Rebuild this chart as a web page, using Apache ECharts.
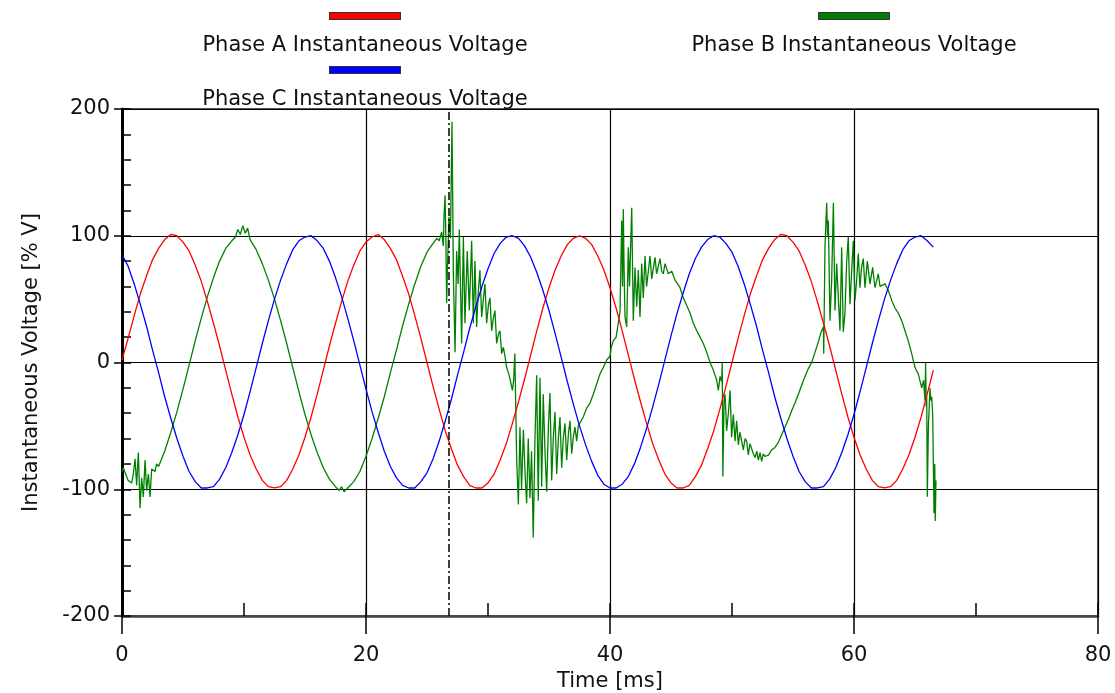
<!DOCTYPE html>
<html><head><meta charset="utf-8">
<script src="https://cdn.jsdelivr.net/npm/echarts@6/dist/echarts.min.js"></script>
<style>html,body{margin:0;padding:0;background:#fff}#chart{width:1115px;height:693px}</style>
</head><body><div id="chart"></div>
<script>
const timeMs = [
0,0.5,1,1.5,2,2.5,3,3.5,4,4.5,5,5.5,6,6.5,7,7.5,8,8.5,9,9.5,
10,10.5,11,11.5,12,12.5,13,13.5,14,14.5,15,15.5,16,16.5,17,17.5,18,18.5,19,19.5,
20,20.5,21,21.5,22,22.5,23,23.5,24,24.5,25,25.5,26,26.5,27,27.5,28,28.5,29,29.5,
30,30.5,31,31.5,32,32.5,33,33.5,34,34.5,35,35.5,36,36.5,37,37.5,38,38.5,39,39.5,
40,40.5,41,41.5,42,42.5,43,43.5,44,44.5,45,45.5,46,46.5,47,47.5,48,48.5,49,49.5,
50,50.5,51,51.5,52,52.5,53,53.5,54,54.5,55,55.5,56,56.5,57,57.5,58,58.5,59,59.5,
60,60.5,61,61.5,62,62.5,63,63.5,64,64.5,65,65.5,66,66.5
];
const phaseA = [
2,19,37,54,68,81,90,97,101,100,
95,88,77,64,48,31,13,-6,-25,-43,
-59,-73,-84,-93,-98,-99,-98,-93,-84,-73,
-59,-43,-25,-6,13,31,48,64,77,88,
95,99,101,97,90,81,68,54,37,19,
0,-19,-37,-54,-68,-81,-90,-97,-99,-99,
-95,-88,-77,-64,-48,-31,-13,6,25,43,
59,73,84,93,98,100,98,93,84,73,
59,43,25,6,-13,-31,-48,-64,-77,-88,
-95,-99,-99,-97,-90,-81,-68,-54,-37,-19,
0,19,37,54,68,81,90,97,101,100,
95,88,77,64,48,31,13,-6,-25,-43,
-59,-73,-84,-93,-98,-99,-98,-93,-84,-73,
-59,-43,-25,-6
];
const phaseC = [
85,76,62,46,29,10,-8,-27,-44,-60,
-74,-86,-94,-99,-99,-98,-92,-83,-71,-57,
-41,-23,-4,15,33,50,65,78,89,96,
99,100,96,90,80,67,52,35,17,-2,
-21,-39,-55,-70,-82,-91,-97,-99,-99,-94,
-87,-76,-62,-46,-29,-10,8,27,44,60,
74,86,94,99,100,98,92,83,71,57,
41,23,4,-15,-33,-50,-65,-78,-89,-96,
-99,-99,-96,-90,-80,-67,-52,-35,-17,2,
21,39,55,70,82,91,97,100,99,94,
87,76,62,46,29,10,-8,-27,-44,-60,
-74,-86,-94,-99,-99,-98,-92,-83,-71,-57,
-41,-23,-4,15,33,50,65,78,89,96,
99,100,96,91
];
const phaseBTimeMs = [
0,0.1,0.3,0.5,0.8,0.93,1.07,1.2,1.34,1.48,1.61,1.75,1.89,2.02,2.16,2.3,2.43,2.7,2.84,3.0,
3.5,4.0,4.5,5.0,5.5,6.0,6.5,7.0,7.5,8.0,8.5,9.0,9.3,9.5,9.7,9.9,10.1,10.3,10.5,11.0,
11.5,12.0,12.5,13.0,13.5,14.0,14.5,15.0,15.5,16.0,16.5,17.0,17.5,17.8,18.0,18.2,18.5,19.0,19.5,20.0,
20.5,21.0,21.5,22.0,22.5,23.0,23.5,24.0,24.5,25.0,25.5,25.8,26.0,26.2,26.34,26.4,26.48,26.55,26.61,26.7,
26.8,26.92,27.05,27.16,27.3,27.43,27.55,27.65,27.84,27.98,28.11,28.3,28.47,28.66,28.8,28.93,29.07,29.2,29.34,29.48,
29.62,29.75,29.89,30.03,30.16,30.3,30.44,30.57,30.71,30.85,30.98,31.12,31.26,31.39,31.53,31.7,31.85,32.0,32.1,32.2,
32.35,32.49,32.62,32.75,32.9,33.05,33.17,33.3,33.44,33.57,33.71,33.85,33.99,34.12,34.26,34.4,34.53,34.67,34.81,34.95,
35.08,35.22,35.35,35.49,35.63,35.77,35.9,36.04,36.17,36.31,36.45,36.6,36.72,36.86,37.0,37.13,37.27,37.4,37.54,37.81,
38.09,38.36,38.63,38.91,39.18,39.45,39.73,40.0,40.1,40.27,40.5,40.68,40.82,40.96,41.03,41.09,41.16,41.23,41.37,41.5,
41.6,41.78,41.91,42.05,42.19,42.32,42.46,42.6,42.73,42.87,43.0,43.14,43.28,43.42,43.55,43.69,43.82,43.96,44.1,44.24,
44.37,44.51,44.78,45.06,45.33,45.74,46.01,46.29,46.56,46.83,47.11,47.38,47.65,47.93,48.2,48.47,48.75,48.88,49.02,49.15,
49.2,49.25,49.35,49.43,49.56,49.7,49.84,49.97,50.11,50.25,50.38,50.52,50.65,50.79,50.93,51.07,51.2,51.34,51.47,51.61,
51.75,51.89,52.03,52.16,52.3,52.43,52.56,52.7,52.98,53.25,53.52,53.8,54.07,54.34,54.62,54.89,55.16,55.44,55.71,55.98,
56.25,56.53,56.8,57.07,57.3,57.49,57.52,57.62,57.76,57.83,57.9,58.03,58.17,58.31,58.44,58.58,58.72,58.85,58.99,59.12,
59.26,59.4,59.53,59.67,59.8,59.94,60.08,60.22,60.35,60.49,60.62,60.76,60.9,61.09,61.31,61.53,61.72,61.99,62.13,62.54,
62.81,63.09,63.36,63.63,63.91,64.18,64.45,64.73,65.0,65.27,65.55,65.7,65.82,65.87,65.92,65.96,66.01,66.1,66.23,66.3,
66.37,66.45,66.56,66.62,66.66,66.72
];
const phaseB = [
-86,-83,-88,-93,-95,-88,-76,-97,-71,-115,-91,-106,-77,-101,-88,-106,-84,-86,-80,-82,
-70,-55,-39,-21,-2,17,35,52,67,80,90,96,99,105,101,108,102,106,97,89,
78,65,50,33,15,-4,-23,-41,-57,-71,-83,-92,-98,-101,-98,-102,-99,-94,-86,-74,
-60,-44,-27,-8,10,29,46,62,76,87,94,98,96,103,92,117,132,96,47,82,
115,98,190,70,8,88,62,105,15,99,31,88,41,96,31,80,28,55,73,36,
50,62,31,45,51,25,35,41,15,22,25,7,12,5,-4,-9,-15,-22,-14,7,
-77,-112,-51,-100,-53,-90,-111,-60,-107,-70,-138,-60,-10,-109,-12,-98,-25,-70,-102,-50,
-24,-93,-60,-39,-88,-60,-43,-83,-60,-48,-77,-55,-46,-72,-58,-51,-62,-50,-51,-43,
-36,-32,-25,-17,-9,-4,2,5,12,17,20,31,40,112,60,121,70,36,28,91,
60,122,33,75,44,73,36,78,51,84,60,59,84,66,65,83,70,70,82,72,
70,78,70,72,65,59,51,45,39,31,25,20,15,8,0,-6,-14,-22,-11,-15,
0,-90,-30,-25,-54,-40,-22,-59,-41,-62,-46,-65,-55,-54,-69,-60,-62,-73,-64,-65,
-72,-75,-70,-77,-71,-78,-72,-74,-73,-69,-67,-63,-57,-51,-45,-38,-32,-25,-18,-11,
-5,0,8,16,24,28,7,91,126,100,112,33,65,126,41,78,50,25,91,24,
39,80,99,46,70,96,49,65,86,59,75,82,59,80,62,75,59,70,60,62,
57,49,43,39,33,25,17,7,-4,-9,-20,-14,-30,0,-35,-27,-106,-50,-20,-30,
-27,-41,-119,-80,-125,-93
];
const faultTimeMs = 26.75;
const seriesNames = ['Phase A Instantaneous Voltage', 'Phase B Instantaneous Voltage', 'Phase C Instantaneous Voltage'];

const FONT = 'DejaVu Sans';
const TXT = '#111';
const RED = '#ff0000', GREEN = '#008000', BLUE = '#0000ff';

function zip(t, v) { return v.map((y, i) => [t[i], y]); }

function legendFor(name, color, cx, top) {
  return {
    data: [name], left: cx - 175, top: top, padding: 0,
    itemWidth: 0, itemHeight: 0, icon: 'rect', selectedMode: false,
    itemStyle: { opacity: 0 }, lineStyle: { opacity: 0 },
    formatter: n => '{bar| }\n{t|' + n + '}',
    textStyle: {
      rich: {
        bar: { width: 70, height: 6, lineHeight: 8, fontSize: 6, backgroundColor: color, borderColor: '#333', borderWidth: 1, align: 'center' },
        t: { fontFamily: FONT, fontSize: 21, color: TXT, lineHeight: 52, width: 340, align: 'center' }
      }
    }
  };
}

const chart = echarts.init(document.getElementById('chart'), null, { renderer: 'canvas' });
chart.setOption({
  animation: false,
  backgroundColor: '#fff',
  legend: [
    legendFor(seriesNames[0], RED, 365, 12),
    legendFor(seriesNames[1], GREEN, 854, 12),
    legendFor(seriesNames[2], BLUE, 365, 66)
  ],
  grid: { left: 122, right: 17, top: 109, bottom: 77, outerBoundsMode: 'none', containLabel: false,
    show: true, borderColor: '#555', borderWidth: 2, backgroundColor: 'transparent' },
  xAxis: [
    { type: 'value', min: 0, max: 80, interval: 20, position: 'bottom',
      name: 'Time [ms]', nameLocation: 'middle', nameGap: 54,
      nameTextStyle: { fontFamily: FONT, fontSize: 21, color: TXT },
      axisLine: { show: true, onZero: false, lineStyle: { color: '#444', width: 2.5 } },
      axisTick: { show: true, length: 18, lineStyle: { color: '#000', width: 1.5 } },
      axisLabel: { fontFamily: FONT, fontSize: 21, color: TXT, margin: 29 },
      splitLine: { show: true, lineStyle: { color: '#000', width: 1.2 } } },
    { type: 'value', min: 0, max: 80, interval: 10, position: 'bottom',
      axisLine: { show: false, onZero: false },
      axisTick: { show: true, inside: true, length: 13, lineStyle: { color: '#000', width: 1.5 } },
      axisLabel: { show: false }, splitLine: { show: false } }
  ],
  yAxis: [
    { type: 'value', min: -200, max: 200, interval: 100, position: 'left',
      name: 'Instantaneous Voltage [% V]', nameLocation: 'middle', nameGap: 80,
      nameTextStyle: { fontFamily: FONT, fontSize: 21, color: TXT },
      axisLine: { show: true, onZero: false, lineStyle: { color: '#000', width: 3 } },
      axisTick: { show: true, length: 8, lineStyle: { color: '#000', width: 1.5 } },
      axisLabel: { fontFamily: FONT, fontSize: 21, color: TXT, margin: 12 },
      splitLine: { show: true, lineStyle: { color: '#000', width: 1.2 } } },
    { type: 'value', min: -200, max: 200, interval: 20, position: 'left',
      axisLine: { show: false, onZero: false },
      axisTick: { show: true, inside: true, length: 9, lineStyle: { color: '#000', width: 1.5 } },
      axisLabel: { show: false }, splitLine: { show: false } }
  ],
  series: [
    { name: seriesNames[1], type: 'line', data: zip(phaseBTimeMs, phaseB), color: GREEN,
      showSymbol: false, symbol: 'none', lineStyle: { width: 1.3, color: GREEN },
      markLine: { silent: true, symbol: ['none', 'none'], label: { show: false }, animation: false,
        lineStyle: { color: '#000', width: 1.5, type: [8, 3, 2, 3] },
        data: [{ xAxis: faultTimeMs }] } },
    { name: seriesNames[0], type: 'line', data: zip(timeMs, phaseA), color: RED,
      showSymbol: false, symbol: 'none', lineStyle: { width: 1.3, color: RED } },
    { name: seriesNames[2], type: 'line', data: zip(timeMs, phaseC), color: BLUE,
      showSymbol: false, symbol: 'none', lineStyle: { width: 1.3, color: BLUE } }
  ]
});
</script></body></html>
